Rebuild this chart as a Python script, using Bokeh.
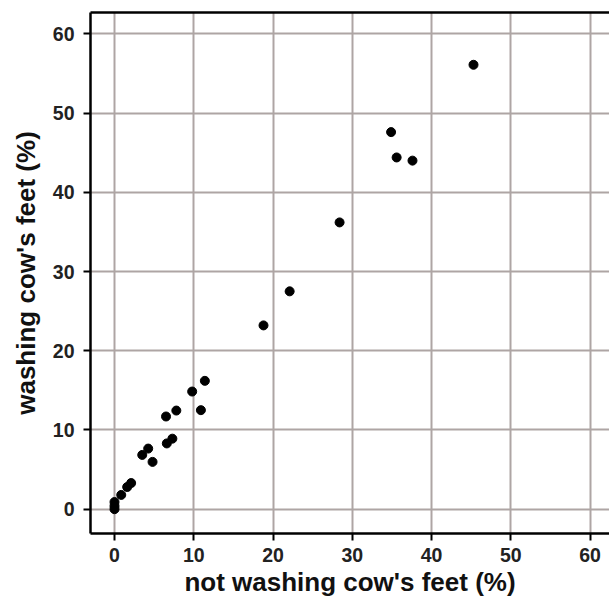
from bokeh.plotting import figure
from bokeh.models import FixedTicker, LinearAxis, Range1d
from bokeh.embed import file_html
from bokeh.resources import INLINE

# data
not_washing = [0.0, 0.0, 0.0, 0.85, 1.6, 2.1, 3.5, 4.25, 4.8, 6.6, 7.3, 6.5, 7.8,
               10.9, 9.8, 11.4, 18.8, 22.1, 28.4, 34.9, 35.6, 37.6, 45.3]
washing = [0.0, 0.4, 0.9, 1.8, 2.8, 3.3, 6.85, 7.65, 5.97, 8.3, 8.9, 11.7, 12.45,
           12.5, 14.85, 16.2, 23.2, 27.5, 36.2, 47.6, 44.4, 44.0, 56.1]
tick_values = [0, 10, 20, 30, 40, 50, 60]

x_title = "not washing cow's feet (%)"
y_title = "washing cow's feet (%)"

FONT = "Liberation Sans"
GRID = "#aea5a4"

p = figure(width=609, height=599, output_backend="svg", toolbar_location=None,
           x_range=Range1d(-3.03, 62.46), y_range=Range1d(-3.07, 62.7),
           min_border_left=90, min_border_right=0, min_border_top=12,
           min_border_bottom=66)
p.outline_line_color = None
p.background_fill_color = "white"
p.border_fill_color = "white"

for ax in (p.xaxis[0], p.yaxis[0]):
    ax.ticker = FixedTicker(ticks=tick_values)
    ax.axis_line_color = "black"
    ax.axis_line_width = 2.5
    ax.major_tick_line_color = "black"
    ax.major_tick_line_width = 2
    ax.major_tick_out = 7
    ax.major_tick_in = 0
    ax.minor_tick_out = 0
    ax.minor_tick_in = 0
    ax.major_label_text_font = FONT
    ax.major_label_text_font_style = "bold"
    ax.major_label_text_font_size = "19.5px"
    ax.major_label_text_color = "#222222"
    ax.axis_label_text_font = FONT
    ax.axis_label_text_font_style = "bold"
    ax.axis_label_text_font_size = "26px"
    ax.axis_label_text_color = "#111111"

p.xaxis.axis_label = x_title
p.yaxis.axis_label = y_title
p.xaxis.major_label_standoff = 7
p.xaxis.axis_label_standoff = 2
p.yaxis.major_label_standoff = 9
p.yaxis.axis_label_standoff = 9

top = LinearAxis(ticker=FixedTicker(ticks=[]), axis_line_color="black",
                 axis_line_width=2.5, major_tick_out=0, major_tick_in=0,
                 minor_tick_out=0, minor_tick_in=0,
                 major_label_text_font_size="0px", major_label_standoff=0)
p.add_layout(top, "above")

for g in (p.xgrid[0], p.ygrid[0]):
    g.ticker = FixedTicker(ticks=tick_values)
    g.grid_line_color = GRID
    g.grid_line_width = 2

p.scatter(not_washing, washing, size=9, color="black", marker="circle")

open("out.html", "w").write(file_html(p, INLINE))
